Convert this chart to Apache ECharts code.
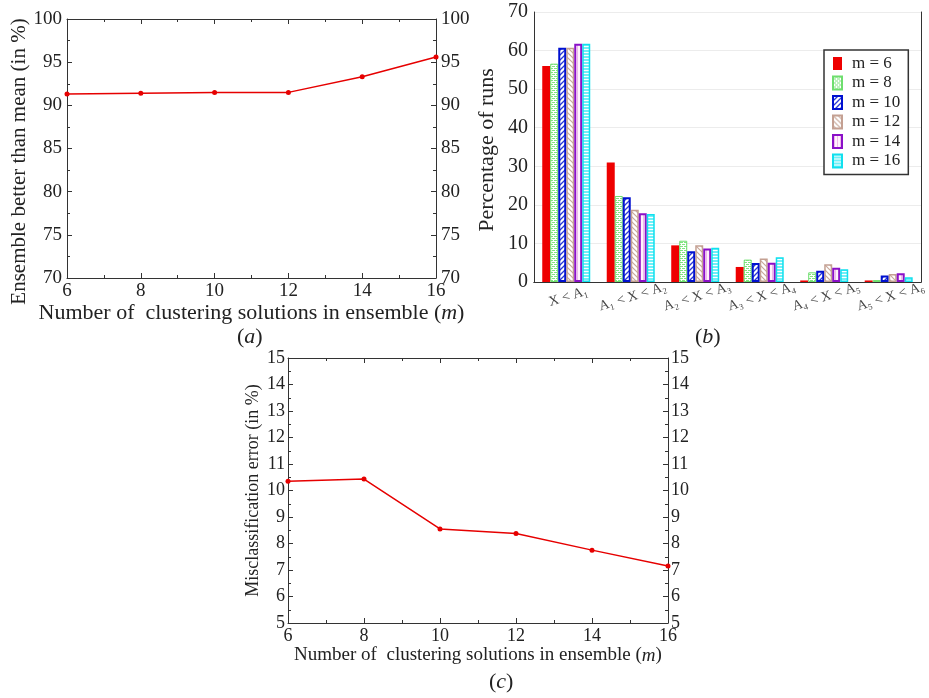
<!DOCTYPE html>
<html>
<head>
<meta charset="utf-8">
<script src="https://cdn.jsdelivr.net/npm/echarts@6/dist/echarts.min.js"></script>
<style>
html,body{margin:0;padding:0;background:#fff;}
#chart{width:929px;height:698px;}
</style>
</head>
<body>
<div id="chart"></div>
<script>
// ---- data ----
const mValues = [6, 8, 10, 12, 14, 16];
const ensembleBetter = [91.3, 91.4, 91.5, 91.5, 93.3, 95.6];
const misclassError = [10.35, 10.43, 8.55, 8.38, 7.75, 7.15];

const binLabels = ['X < A\u2081', 'A\u2081 < X < A\u2082', 'A\u2082 < X < A\u2083', 'A\u2083 < X < A\u2084', 'A\u2084 < X < A\u2085', 'A\u2085 < X < A\u2086'];
const seriesNames = ['m = 6', 'm = 8', 'm = 10', 'm = 12', 'm = 14', 'm = 16'];
const runsM6  = [56.0, 31.0, 9.5, 3.9, 0.4, 0.4];
const runsM8  = [56.6, 22.3, 10.7, 5.8, 2.5, 0.5];
const runsM10 = [60.7, 22.0, 8.0, 4.9, 2.9, 1.7];
const runsM12 = [60.7, 18.7, 9.5, 6.1, 4.6, 2.1];
const runsM14 = [61.8, 17.8, 8.7, 5.0, 3.7, 2.3];
const runsM16 = [61.8, 17.6, 8.9, 6.4, 3.3, 1.2];
const runsAll = [runsM6, runsM8, runsM10, runsM12, runsM14, runsM16];

// ---- patterns ----
function makePattern(w, h, draw) {
  const c = document.createElement('canvas');
  c.width = w; c.height = h;
  const ctx = c.getContext('2d');
  draw(ctx, w, h);
  return c;
}
const patGreen = makePattern(4, 4, (ctx) => {
  ctx.fillStyle = '#7fe57f'; ctx.fillRect(0, 0, 4, 4);
  ctx.fillStyle = '#ffffff';
  ctx.fillRect(0, 1, 4, 1);
  ctx.fillRect(0, 3, 4, 1);
  ctx.fillRect(1, 0, 1, 1);
  ctx.fillRect(3, 2, 1, 1);
});
const patBlue = makePattern(5, 5, (ctx) => {
  ctx.fillStyle = '#ffffff'; ctx.fillRect(0, 0, 5, 5);
  ctx.strokeStyle = '#2a3ad8'; ctx.lineWidth = 1.3;
  ctx.beginPath();
  ctx.moveTo(-1, 6); ctx.lineTo(6, -1);
  ctx.moveTo(-1, 1); ctx.lineTo(1, -1);
  ctx.moveTo(4, 6); ctx.lineTo(6, 4);
  ctx.stroke();
});
const patTan = makePattern(5, 5, (ctx) => {
  ctx.fillStyle = '#ffffff'; ctx.fillRect(0, 0, 5, 5);
  ctx.strokeStyle = '#c9a89a'; ctx.lineWidth = 1.2;
  ctx.beginPath();
  ctx.moveTo(-1, -1); ctx.lineTo(6, 6);
  ctx.moveTo(4, -1); ctx.lineTo(6, 1);
  ctx.moveTo(-1, 4); ctx.lineTo(1, 6);
  ctx.stroke();
});
const patPink = makePattern(3, 3, (ctx) => {
  ctx.fillStyle = '#fff2fc'; ctx.fillRect(0, 0, 3, 3);
  ctx.fillStyle = '#f0b8ea'; ctx.fillRect(1, 0, 1, 3);
});
const patCyan = makePattern(3, 3, (ctx) => {
  ctx.fillStyle = '#6ff0f8'; ctx.fillRect(0, 0, 3, 3);
  ctx.fillStyle = '#ffffff'; ctx.fillRect(0, 1, 3, 1);
});

const barStyles = [
  { color: '#ee0000', borderColor: '#ee0000', borderWidth: 0 },
  { color: { image: patGreen, repeat: 'repeat' }, borderColor: '#6ede6e', borderWidth: 1 },
  { color: { image: patBlue, repeat: 'repeat' }, borderColor: '#0010d0', borderWidth: 2 },
  { color: { image: patTan, repeat: 'repeat' }, borderColor: '#c4a092', borderWidth: 1.5 },
  { color: { image: patPink, repeat: 'repeat' }, borderColor: '#8a10c8', borderWidth: 2 },
  { color: { image: patCyan, repeat: 'repeat' }, borderColor: '#10e0ee', borderWidth: 1.5 }
];

// ---- styles ----
const FONT = 'Liberation Serif';
const TXT = '#222';
const AX = '#333';
const X_NAME = 'Number of  clustering solutions in ensemble ({i|m})';

function valueX(grid, pos, min, max, interval, showLabel, fs, name, nameGap, nameFs) {
  return {
    type: 'value', gridIndex: grid, position: pos, min: min, max: max, interval: interval,
    axisLine: { show: true, onZero: false, lineStyle: { color: AX, width: 1 } },
    axisTick: { show: true, inside: true, length: 5, lineStyle: { color: AX } },
    minorTick: { show: true, splitNumber: 2, length: 3, lineStyle: { color: AX } },
    splitLine: { show: false }, minorSplitLine: { show: false },
    axisLabel: { show: showLabel, fontFamily: FONT, fontSize: fs, color: TXT, margin: 4, showMinLabel: true, showMaxLabel: true },
    name: name || '', nameLocation: 'middle', nameGap: nameGap || 0,
    nameTextStyle: { fontFamily: FONT, fontSize: nameFs || 12, color: TXT,
      rich: { i: { fontFamily: FONT, fontStyle: 'italic', fontSize: nameFs || 12, color: TXT } } }
  };
}
function valueY(grid, pos, min, max, interval, fs, margin, minorSplit, name, nameGap, nameFs, namePad) {
  return {
    type: 'value', gridIndex: grid, position: pos, min: min, max: max, interval: interval,
    axisLine: { show: true, onZero: false, lineStyle: { color: AX, width: 1 } },
    axisTick: { show: true, inside: true, length: 5, lineStyle: { color: AX } },
    minorTick: { show: true, splitNumber: minorSplit, length: 3, lineStyle: { color: AX } },
    splitLine: { show: false }, minorSplitLine: { show: false },
    axisLabel: { show: true, fontFamily: FONT, fontSize: fs, color: TXT, margin: margin, showMinLabel: true, showMaxLabel: true },
    name: name || '', nameLocation: 'middle', nameGap: nameGap || 0,
    nameTextStyle: { fontFamily: FONT, fontSize: nameFs || 12, color: TXT, padding: namePad || 0 }
  };
}

const option = {
  backgroundColor: '#ffffff',
  animation: false,
  grid: [
    { left: 67, top: 19, width: 369, height: 259, show: false },
    { left: 534, top: 12, width: 388, height: 270, show: false },
    { left: 288, top: 358, width: 380, height: 265, show: false }
  ],
  xAxis: [
    valueX(0, 'bottom', 6, 16, 2, true, 19, X_NAME, 23, 22),
    valueX(0, 'top', 6, 16, 2, false, 19),
    {
      type: 'category', gridIndex: 1, position: 'bottom', data: binLabels,
      axisLine: { show: true, lineStyle: { color: AX, width: 1 } },
      axisTick: { show: false },
      axisLabel: { fontFamily: FONT, fontSize: 14, color: '#444', rotate: 17, align: 'center', verticalAlign: 'top', margin: 8, interval: 0 }
    },
    {
      type: 'category', gridIndex: 1, position: 'top', data: binLabels,
      axisLine: { show: true, lineStyle: { color: AX, width: 1 } },
      axisTick: { show: false }, axisLabel: { show: false }
    },
    valueX(2, 'bottom', 6, 16, 2, true, 18, X_NAME, 23, 19),
    valueX(2, 'top', 6, 16, 2, false, 18)
  ],
  yAxis: [
    valueY(0, 'left', 70, 100, 5, 19, 5, 2, 'Ensemble better than mean (in %)', 34, 21, [0, 26, 0, 0]),
    valueY(0, 'right', 70, 100, 5, 19, 5, 2),
    {
      type: 'value', gridIndex: 1, position: 'left', min: 0, max: 70, interval: 10,
      axisLine: { show: true, lineStyle: { color: AX, width: 1 } },
      axisTick: { show: false },
      splitLine: { show: true, lineStyle: { color: '#ececec', width: 1 } },
      axisLabel: { fontFamily: FONT, fontSize: 20, color: TXT, margin: 6, showMinLabel: true, showMaxLabel: true },
      name: 'Percentage of runs', nameLocation: 'middle', nameGap: 36,
      nameTextStyle: { fontFamily: FONT, fontSize: 22, color: TXT, padding: [0, 6, 0, 0] }
    },
    {
      type: 'value', gridIndex: 1, position: 'right', min: 0, max: 70, interval: 10,
      axisLine: { show: true, lineStyle: { color: AX, width: 1 } },
      axisTick: { show: false }, axisLabel: { show: false }, splitLine: { show: false }
    },
    valueY(2, 'left', 5, 15, 1, 18, 3, 2, 'Misclassification error (in %)', 26, 18),
    valueY(2, 'right', 5, 15, 1, 18, 3, 2)
  ],
  legend: {
    data: seriesNames,
    orient: 'vertical',
    left: 824, top: 50,
    itemWidth: 9, itemHeight: 13, itemGap: 2.5,
    padding: [5, 8, 5, 8],
    backgroundColor: '#ffffff',
    borderColor: '#333', borderWidth: 1.5, borderRadius: 0,
    icon: 'rect',
    textStyle: { fontFamily: FONT, fontSize: 17, color: TXT, padding: [0, 0, 0, 5] }
  },
  series: [
    {
      type: 'line', xAxisIndex: 0, yAxisIndex: 0,
      data: mValues.map((m, i) => [m, ensembleBetter[i]]),
      symbol: 'circle', symbolSize: 5,
      lineStyle: { color: '#e60000', width: 1.5 },
      itemStyle: { color: '#e60000' }
    },
    {
      type: 'line', xAxisIndex: 4, yAxisIndex: 4,
      data: mValues.map((m, i) => [m, misclassError[i]]),
      symbol: 'circle', symbolSize: 5,
      lineStyle: { color: '#e60000', width: 1.5 },
      itemStyle: { color: '#e60000' }
    }
  ].concat(seriesNames.map((nm, k) => ({
    type: 'bar', name: nm, xAxisIndex: 2, yAxisIndex: 2,
    data: runsAll[k],
    barWidth: 8, barGap: '0%',
    itemStyle: barStyles[k]
  }))),
  graphic: [
    { type: 'text', left: 237, top: 326, style: { text: '({i|a})', fontFamily: FONT, fontSize: 22, fill: TXT, rich: { i: { fontFamily: FONT, fontStyle: 'italic', fontSize: 22, fill: TXT } } } },
    { type: 'text', left: 695, top: 326, style: { text: '({i|b})', fontFamily: FONT, fontSize: 22, fill: TXT, rich: { i: { fontFamily: FONT, fontStyle: 'italic', fontSize: 22, fill: TXT } } } },
    { type: 'text', left: 489, top: 671, style: { text: '({i|c})', fontFamily: FONT, fontSize: 22, fill: TXT, rich: { i: { fontFamily: FONT, fontStyle: 'italic', fontSize: 22, fill: TXT } } } }
  ]
};

const chart = echarts.init(document.getElementById('chart'), null, { renderer: 'canvas' });
chart.setOption(option);
</script>
</body>
</html>
